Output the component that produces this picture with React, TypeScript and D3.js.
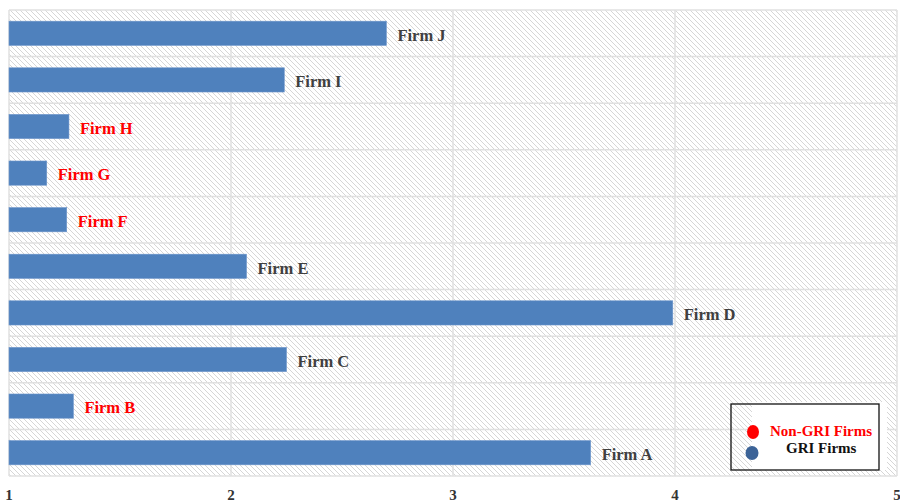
import React from "react";
import * as d3 from "d3";

const firms = ["Firm A", "Firm B", "Firm C", "Firm D", "Firm E", "Firm F", "Firm G", "Firm H", "Firm I", "Firm J"];
const scores = [3.62, 1.29, 2.25, 3.99, 2.07, 1.26, 1.17, 1.27, 2.24, 2.70];
const griReporter = [true, false, true, true, true, false, false, false, true, true];
const xTicks = [1, 2, 3, 4, 5];
const legendItems = ["Non-GRI Firms", "GRI Firms"];

const W = 900;
const H = 502;
const plot = { left: 9, right: 897, top: 10, bottom: 476 };
const serif = "'Liberation Serif', 'Times New Roman', serif";

export default function App() {
  const x = d3.scaleLinear().domain([1, 5]).range([plot.left, plot.right]);
  const y = d3
    .scaleBand<string>()
    .domain([...firms].reverse())
    .range([plot.top, plot.bottom])
    .paddingInner(0.48)
    .paddingOuter(0.24);
  const rows = d3.scaleBand<string>().domain([...firms].reverse()).range([plot.top, plot.bottom]);

  return (
    <svg
      width={W}
      height={H}
      style={{ position: "absolute", left: 0, top: 0, display: "block", background: "#fff" }}
    >
      <defs>
        <pattern id="hatch" patternUnits="userSpaceOnUse" width={5} height={5}>
          <rect width={5} height={5} fill="#ffffff" />
          <path d="M-1,-1 L6,6 M-1,4 L1,6 M4,-1 L6,1" stroke="#d6d6d6" strokeWidth={1} />
        </pattern>
      </defs>

      {/* plot background */}
      <rect
        x={plot.left}
        y={plot.top}
        width={plot.right - plot.left}
        height={plot.bottom - plot.top}
        fill="url(#hatch)"
      />

      {/* horizontal row separators */}
      {firms.map((f) => (
        <line
          key={"h" + f}
          x1={plot.left}
          x2={plot.right}
          y1={rows(f)!}
          y2={rows(f)!}
          stroke="#e0e0e0"
          strokeWidth={1.5}
        />
      ))}
      <line x1={plot.left} x2={plot.right} y1={plot.bottom} y2={plot.bottom} stroke="#e0e0e0" strokeWidth={1.5} />

      {/* vertical gridlines */}
      {xTicks.map((t) => (
        <line
          key={"v" + t}
          x1={x(t)}
          x2={x(t)}
          y1={plot.top}
          y2={plot.bottom}
          stroke="#e0e0e0"
          strokeWidth={1.5}
        />
      ))}

      {/* bars */}
      {firms.map((f, i) => (
        <rect
          key={"b" + f}
          x={x(1)}
          y={y(f)!}
          width={x(scores[i]) - x(1)}
          height={y.bandwidth()}
          fill="#4f81bd"
          stroke="#6f97cc"
          strokeWidth={0.6}
        />
      ))}

      {/* bar labels */}
      {firms.map((f, i) => (
        <text
          key={"l" + f}
          x={x(scores[i]) + 11}
          y={y(f)! + y.bandwidth() / 2 + 1.5}
          dy="0.35em"
          fontFamily={serif}
          fontWeight="bold"
          fontSize={16.5}
          fill={griReporter[i] ? "#404040" : "#ff0000"}
        >
          {f}
        </text>
      ))}

      {/* x tick labels */}
      {xTicks.map((t) => (
        <text
          key={"t" + t}
          x={x(t)}
          y={500}
          textAnchor="middle"
          fontFamily={serif}
          fontWeight="bold"
          fontSize={15}
          fill="#333333"
        >
          {t}
        </text>
      ))}

      {/* legend */}
      <g>
        <rect x={752} y={402} width={135} height={68} fill="#ffffff" />
        <rect x={731} y={404} width={148} height={66} fill="none" stroke="#111111" strokeWidth={1.3} />
        <ellipse cx={753} cy={432} rx={6} ry={7} fill="#ff0000" />
        <ellipse cx={752} cy={453} rx={6.5} ry={7} fill="#3c6397" />
        <text x={770} y={436} fontFamily={serif} fontWeight="bold" fontSize={15} fill="#ff0000">
          {legendItems[0]}
        </text>
        <text x={786} y={453} fontFamily={serif} fontWeight="bold" fontSize={15} fill="#111111">
          {legendItems[1]}
        </text>
      </g>
    </svg>
  );
}
